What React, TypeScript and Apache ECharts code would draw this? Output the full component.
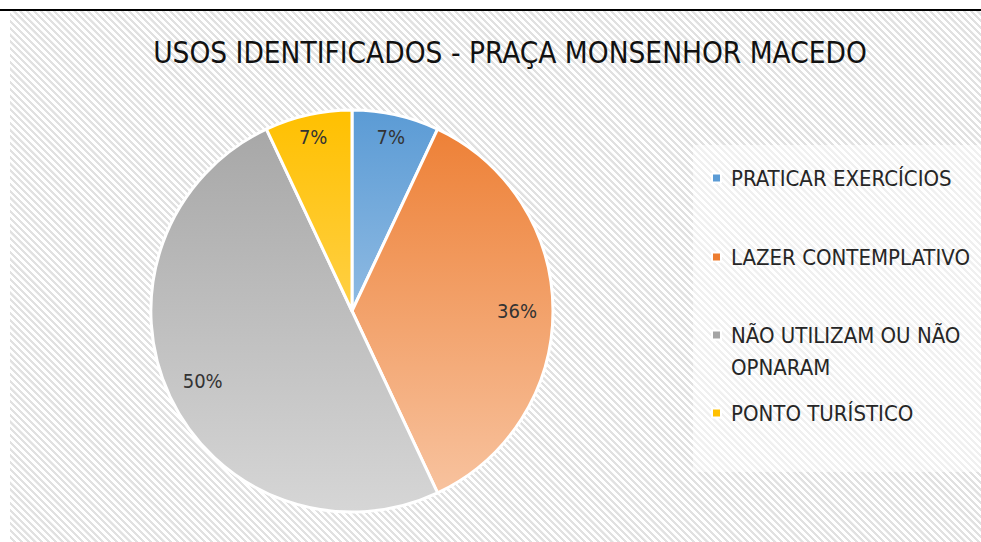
import React, { useEffect, useRef } from "react";
import * as echarts from "echarts";

const TITLE = "USOS IDENTIFICADOS - PRAÇA MONSENHOR MACEDO";
const categories = [
  "PRATICAR EXERCÍCIOS",
  "LAZER CONTEMPLATIVO",
  "NÃO UTILIZAM OU NÃO OPNARAM",
  "PONTO TURÍSTICO",
];
const values = [7, 36, 50, 7];
const colorsTop = ["#5B9BD5", "#ED7D31", "#A5A5A5", "#FFC000"];
const colorsBottom = ["#C3DAF0", "#F8C6A4", "#D6D6D6", "#FFE08A"];
const legendCenters = [178, 257, 335, 413];

const FONT = "'Liberation Sans Narrow', 'DejaVu Sans Condensed', 'Liberation Sans', sans-serif";

export default function App() {
  const ref = useRef<HTMLDivElement>(null);
  useEffect(() => {
    if (!ref.current) return;
    const chart = echarts.init(ref.current, undefined, { renderer: "svg" });
    const grad = (i: number) => ({
      type: "linear",
      x: 0,
      y: 110,
      x2: 0,
      y2: 512,
      global: true,
      colorStops: [
        { offset: 0, color: colorsTop[i] },
        { offset: 1, color: colorsBottom[i] },
      ],
    });
    const center = [352, 311];
    const legends = categories.map((name, i) => {
      const multi = name.includes(" OPNARAM");
      return {
        orient: "vertical",
        left: 711,
        top: multi ? legendCenters[i] - 48 : legendCenters[i] - 12,
        padding: 0,
        itemWidth: 9,
        itemHeight: 9,
        icon: "rect",
        data: [name],
        formatter: (n: string) =>
          n.includes(" OPNARAM") ? "\n" + n.replace(" OPNARAM", "\nOPNARAM") : n,
        textStyle: {
          fontFamily: FONT,
          fontSize: 22,
          color: "#262626",
          lineHeight: multi ? 32 : 24,
          padding: [0, 0, 0, 5],
        },
      };
    });
    const labelSeries = (radius: number, show: (i: number) => boolean) => ({
      type: "pie",
      center,
      radius: [0, radius],
      startAngle: 90,
      clockwise: true,
      silent: true,
      emphasis: { disabled: true },
      itemStyle: { color: "transparent", borderWidth: 0 },
      labelLine: { show: false },
      label: {
        position: "inside",
        formatter: "{c}%",
        fontFamily: FONT,
        fontSize: 20,
        color: "#333333",
      },
      data: categories.map((name, i) => ({
        name,
        value: values[i],
        label: { show: show(i) },
      })),
    });
    chart.setOption({
      animation: false,
      title: {
        text: TITLE,
        left: 505,
        top: 33,
        textAlign: "center",
        textStyle: {
          fontFamily: FONT,
          fontSize: 29.5,
          fontWeight: "normal",
          color: "#111",
        },
      },
      legend: legends,
      graphic: [
        {
          type: "rect",
          z: -1,
          shape: { x: 693, y: 145, width: 288, height: 327 },
          style: { fill: "rgba(255,255,255,0.5)" },
          silent: true,
        },
      ],
      series: [
        {
          type: "pie",
          center,
          radius: [0, 201],
          startAngle: 90,
          clockwise: true,
          label: { show: false },
          labelLine: { show: false },
          emphasis: { disabled: true },
          itemStyle: { borderColor: "#ffffff", borderWidth: 3 },
          data: categories.map((name, i) => ({
            name,
            value: values[i],
            itemStyle: { color: grad(i) },
          })),
        },
        labelSeries(350, (i) => values[i] < 10),
        labelSeries(324, (i) => values[i] >= 10),
      ],
    });
    return () => chart.dispose();
  }, []);

  return (
    <div
      style={{
        position: "fixed",
        left: 0,
        top: 0,
        width: 981,
        height: 542,
        background: "#ffffff",
        overflow: "hidden",
      }}
    >
      <div
        style={{
          position: "absolute",
          left: 0,
          top: 9,
          width: 981,
          height: 2,
          background: "#000000",
        }}
      />
      <div
        style={{
          position: "absolute",
          left: 10,
          top: 11,
          width: 971,
          height: 531,
          background:
            "repeating-linear-gradient(45deg, #ffffff 0px, #ffffff 2.4px, #e1e1e1 2.6px, #e1e1e1 4.6px, #ffffff 4.8px)",
        }}
      />
      <div
        ref={ref}
        style={{ position: "absolute", left: 0, top: 0, width: 981, height: 542 }}
      />
    </div>
  );
}
